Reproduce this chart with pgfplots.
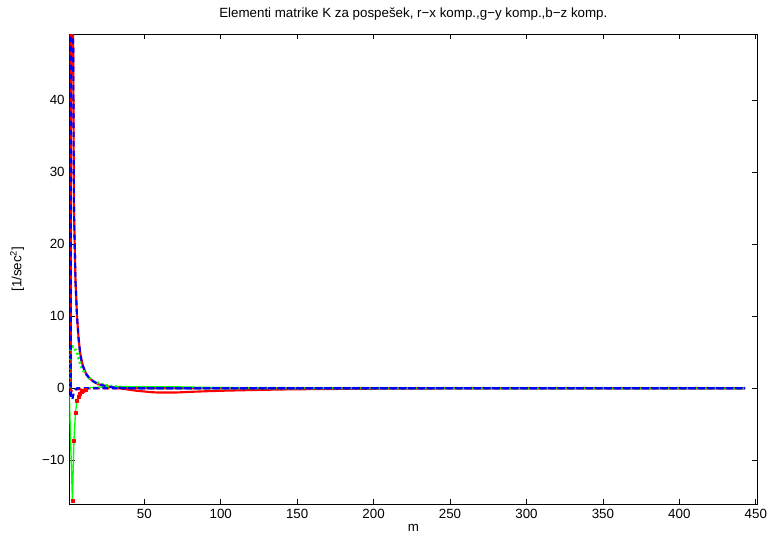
\documentclass[border=0pt]{standalone}
\usepackage{fontspec}
\setmainfont{Liberation Sans}
\usepackage{pgfplots}
\pgfplotsset{compat=1.18}
\definecolor{mred}{rgb}{1,0,0}
\definecolor{mgreen}{rgb}{0,1,0}
\definecolor{mblue}{rgb}{0,0,1}
\begin{document}
\begin{tikzpicture}
\begin{axis}[name=ax, scale only axis, width=515.8pt, height=352.5pt,
  xmin=1, xmax=451, ymin=-16.1, ymax=49.2,
  xtick={50,100,...,450}, ytick={-10,0,10,20,30,40},
  xticklabels={50,100,150,200,250,300,350,400,450},
  yticklabels={−10,0,10,20,30,40},
  tick align=inside, major tick length=4pt,
  tick style={black, line width=0.5pt},
  axis line style={black, line width=0.6pt},
  font=\fontsize{10}{12}\selectfont,
  ticklabel style={font=\fontsize{10}{12}\selectfont},
  title={Elementi matrike K za pospešek, r−x komp.,g−y komp.,b−z komp.},
  title style={at={(axis description cs:0.5,1)}, anchor=base, yshift=6.5pt},
  xlabel={m},
  xlabel style={at={(axis description cs:0.5,0)}, anchor=center, yshift=-18pt},
  ylabel={[1/sec\textsuperscript{2}]},
  ylabel style={at={(axis description cs:-0.076,0.5)}, anchor=center},
  every axis plot/.append style={line join=round},
]
% red solid: decay then negative dip
\addplot[mred, line width=1.6pt] coordinates {
(1,400)(2,180)(3,70)(4,25)(5,15)(6,10)(7,7)(8,5)(9,3.8)(10,3)(12,2)(14,1.4)(17,0.9)(20,0.55)(25,0.3)(30,0.1)(35,-0.05)(40,-0.2)(45,-0.35)(50,-0.45)(55,-0.55)(60,-0.6)(70,-0.6)(80,-0.5)(90,-0.42)(100,-0.35)(120,-0.25)(140,-0.17)(160,-0.12)(200,-0.06)(250,-0.02)(300,0)(443,0)};
% red dashed: spike at start
\addplot[mred, line width=1.6pt, dash pattern=on 4pt off 3pt] coordinates {
(1,1000)(2,-0.3)(3,-0.4)(4,-0.3)(5,-0.2)(8,-0.1)(15,0)(443,0)};
% red dots
\addplot[mred, only marks, mark=square*, mark size=1.1pt] coordinates {
(3,-15.6)(4,-7.3)(5,-3.4)(6,-1.7)(7,-1.2)(8,-0.8)(9,-0.5)(10,-0.4)(12,-0.2)};
% green solid
\addplot[mgreen, line width=1pt] coordinates {
(1,-1)(2,-8.5)(3,-15.6)(4,-7.3)(5,-3.4)(6,-1.6)(7,-0.9)(8,-0.5)(10,-0.15)(12,0)(15,0.1)(20,0.15)(30,0.2)(50,0.22)(70,0.2)(90,0.12)(120,0.05)(160,0.02)(200,0)(443,0)};
% green dotted with dots
\addplot[mgreen, line width=2pt, dash pattern=on 1.5pt off 2pt] coordinates {
(1,0)(2,5.7)(3,5.8)(4,5.8)(5,5.3)(6,5.0)(7,4.2)(8,3.5)(9,2.9)(10,2.5)(12,1.9)(14,1.4)(17,0.95)(21,0.65)(25,0.4)(28,0.3)(35,0.15)(45,0.05)(60,0)(443,0)};
% blue dashed spike with small negative
\addplot[mblue, line width=1.6pt, dash pattern=on 4pt off 3pt, dash phase=3.5pt] coordinates {
(1,1000)(2,-1.5)(3,-1.5)(4,-0.5)(5,-0.2)(6,0)(443,0)};
% blue dashed decay
\addplot[mblue, line width=1.6pt, dash pattern=on 4pt off 3pt] coordinates {
(1,400)(2,180)(3,70)(4,25)(5,15)(6,10)(7,7)(8,5)(9,3.8)(10,3)(12,2)(14,1.4)(17,0.9)(20,0.55)(25,0.3)(30,0.1)(40,0.02)(50,0)(443,0)};
\end{axis}
\pgfresetboundingbox
\path[use as bounding box] ([xshift=-52pt,yshift=-24pt]ax.south west) rectangle ([xshift=9.5pt,yshift=25.5pt]ax.north east);
\end{tikzpicture}
\end{document}
